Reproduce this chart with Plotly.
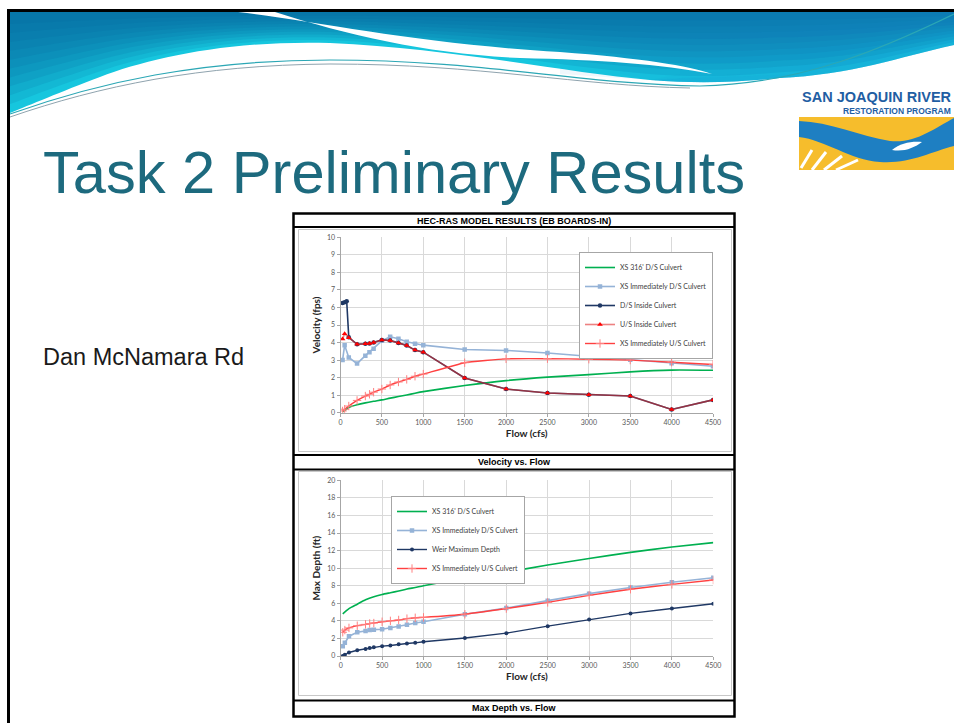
import plotly.graph_objects as go

W, H = 954, 723

def X(p):
    return p / W

def Y(p):
    return 1 - p / H

# ---------------- DATA ----------------
flow = [25, 50, 100, 200, 300, 350, 400, 500, 600, 700, 800, 900, 1000,
        1500, 2000, 2500, 3000, 3500, 4000, 4500]
flow_green = [25, 100, 200, 300, 400, 500, 600, 700, 800, 900, 1000,
              1500, 2000, 2500, 3000, 3500, 4000, 4500]
flow_ds_inside = [25, 50, 75, 100, 200, 300, 350, 400, 500, 600, 700, 800, 900, 1000,
                  1500, 2000, 2500, 3000, 3500, 4000, 4500]

# Velocity vs Flow
vel_xs316 = [0.05, 0.3, 0.45, 0.56, 0.65, 0.73, 0.83, 0.92, 1.01, 1.11, 1.2,
             1.55, 1.83, 2.03, 2.17, 2.33, 2.43, 2.42]
vel_xs_ds = [3.0, 3.85, 3.15, 2.8, 3.25, 3.45, 3.65, 4.1, 4.33, 4.22, 4.05, 3.93, 3.85,
             3.6, 3.55, 3.4, 3.22, 3.02, 2.82, 2.65]
vel_ds_inside = [6.25, 6.3, 6.35, 4.3, 3.9, 3.93, 3.95, 4.0, 4.15, 4.12, 3.98, 3.83, 3.57, 3.45,
                 1.98, 1.35, 1.12, 1.03, 0.95, 0.18, 0.73]
vel_us_inside = [4.2, 4.5, 4.28, 3.9, 3.93, 3.95, 4.0, 4.15, 4.12, 3.98, 3.83, 3.57, 3.45,
                 1.98, 1.35, 1.12, 1.03, 0.95, 0.18, 0.73]
vel_xs_us = [0.1, 0.2, 0.38, 0.7, 0.95, 1.05, 1.17, 1.35, 1.58, 1.75, 1.9, 2.08, 2.2,
             2.85, 3.07, 3.08, 3.05, 3.0, 2.88, 2.75]

# Max Depth vs Flow
dep_xs316 = [4.8, 5.4, 5.9, 6.4, 6.75, 7.0, 7.2, 7.4, 7.62, 7.8, 8.0,
             8.85, 9.55, 10.35, 11.1, 11.8, 12.4, 12.9]
dep_xs_ds = [1.1, 1.5, 2.25, 2.7, 2.85, 2.95, 3.0, 3.05, 3.2, 3.35, 3.55, 3.75, 3.9,
             4.75, 5.45, 6.3, 7.1, 7.8, 8.4, 8.9]
dep_weir = [0.0, 0.15, 0.4, 0.65, 0.8, 0.9, 1.0, 1.12, 1.2, 1.35, 1.42, 1.5, 1.62,
            2.05, 2.6, 3.4, 4.15, 4.85, 5.4, 5.95]
dep_xs_us = [2.7, 2.95, 3.2, 3.45, 3.6, 3.7, 3.75, 3.9, 4.0, 4.1, 4.25, 4.35, 4.4,
             4.75, 5.4, 6.1, 6.9, 7.6, 8.15, 8.65]

x_ticks = [0, 500, 1000, 1500, 2000, 2500, 3000, 3500, 4000, 4500]
vel_ticks = list(range(0, 11))
dep_ticks = list(range(0, 21, 2))

GREEN = "#00B050"
LBLUE = "#95B3D7"
NAVY = "#1F3864"
RED = "#FF4040"

fig = go.Figure()

# ---- top chart traces ----
fig.add_trace(go.Scatter(x=flow_green, y=vel_xs316, name="XS 316' D/S Culvert",
                         mode="lines", line=dict(color=GREEN, width=1.6, shape="spline", smoothing=0.6),
                         xaxis="x", yaxis="y", legend="legend"))
fig.add_trace(go.Scatter(x=flow, y=vel_xs_ds, name="XS Immediately D/S Culvert",
                         mode="lines+markers", line=dict(color=LBLUE, width=1.6),
                         marker=dict(symbol="square", size=4.5, color=LBLUE),
                         xaxis="x", yaxis="y", legend="legend"))
fig.add_trace(go.Scatter(x=flow_ds_inside, y=vel_ds_inside, name="D/S Inside Culvert",
                         mode="lines+markers", line=dict(color=NAVY, width=1.6),
                         marker=dict(symbol="circle", size=4.5, color=NAVY),
                         xaxis="x", yaxis="y", legend="legend"))
fig.add_trace(go.Scatter(x=flow, y=vel_us_inside, name="U/S Inside Culvert",
                         mode="lines+markers", line=dict(color="rgba(225,45,45,0.6)", width=1.6),
                         marker=dict(symbol="triangle-up", size=5, color="#FF0000"),
                         xaxis="x", yaxis="y", legend="legend"))
fig.add_trace(go.Scatter(x=flow, y=vel_xs_us, name="XS Immediately U/S Culvert",
                         mode="lines+markers", line=dict(color=RED, width=1.4, shape="spline", smoothing=0.4),
                         marker=dict(symbol="cross-thin-open", size=6, color="#FF8080",
                                     line=dict(width=1, color="#FF8080")),
                         xaxis="x", yaxis="y", legend="legend"))

# ---- bottom chart traces ----
fig.add_trace(go.Scatter(x=flow_green, y=dep_xs316, name="XS 316' D/S Culvert",
                         mode="lines", line=dict(color=GREEN, width=1.6, shape="spline", smoothing=0.6),
                         xaxis="x2", yaxis="y2", legend="legend2"))
fig.add_trace(go.Scatter(x=flow, y=dep_xs_ds, name="XS Immediately D/S Culvert",
                         mode="lines+markers", line=dict(color=LBLUE, width=1.6),
                         marker=dict(symbol="square", size=4.5, color=LBLUE),
                         xaxis="x2", yaxis="y2", legend="legend2"))
fig.add_trace(go.Scatter(x=flow, y=dep_weir, name="Weir Maximum Depth",
                         mode="lines+markers", line=dict(color=NAVY, width=1.4),
                         marker=dict(symbol="circle", size=4, color=NAVY),
                         xaxis="x2", yaxis="y2", legend="legend2"))
fig.add_trace(go.Scatter(x=flow, y=dep_xs_us, name="XS Immediately U/S Culvert",
                         mode="lines+markers", line=dict(color=RED, width=1.4, shape="spline", smoothing=0.4),
                         marker=dict(symbol="cross-thin-open", size=6, color="#FF8080",
                                     line=dict(width=1, color="#FF8080")),
                         xaxis="x2", yaxis="y2", legend="legend2"))

CHART_FONT = "Lato, 'Liberation Sans', sans-serif"
axis_common = dict(showgrid=True, gridcolor="#D9D9D9", gridwidth=1, zeroline=False,
                   showline=True, linecolor="#A6A6A6", linewidth=1,
                   ticks="outside", ticklen=3, tickcolor="#A6A6A6",
                   tickfont=dict(family=CHART_FONT, size=7, color="#595959"),
                   automargin=False, fixedrange=True)

fig.update_layout(
    width=W, height=H,
    margin=dict(l=0, r=0, t=0, b=0),
    paper_bgcolor="white", plot_bgcolor="white",
    xaxis=dict(domain=[X(340.5), X(713)], range=[0, 4500], tickvals=x_ticks, anchor="y",
               title=dict(text="<b>Flow (cfs)</b>", standoff=4,
                          font=dict(family=CHART_FONT, size=10, color="#262626")),
               **axis_common),
    yaxis=dict(domain=[Y(412.7), Y(237.3)], range=[0, 10], tickvals=vel_ticks, anchor="x",
               title=dict(text="<b>Velocity (fps)</b>", standoff=4,
                          font=dict(family=CHART_FONT, size=10, color="#262626")),
               **axis_common),
    xaxis2=dict(domain=[X(340.7), X(713.3)], range=[0, 4500], tickvals=x_ticks, anchor="y2",
                title=dict(text="<b>Flow (cfs)</b>", standoff=4,
                           font=dict(family=CHART_FONT, size=10, color="#262626")),
                **axis_common),
    yaxis2=dict(domain=[Y(656), Y(480.3)], range=[0, 20], tickvals=dep_ticks, anchor="x2",
                title=dict(text="<b>Max Depth (ft)</b>", standoff=4,
                           font=dict(family=CHART_FONT, size=10, color="#262626")),
                **axis_common),
    legend=dict(x=X(579), y=Y(252), xanchor="left", yanchor="top",
                bgcolor="white", bordercolor="#A6A6A6", borderwidth=1,
                font=dict(family=CHART_FONT, size=7, color="#404040"),
                itemwidth=30, tracegroupgap=0),
    legend2=dict(x=X(391), y=Y(496), xanchor="left", yanchor="top",
                 bgcolor="white", bordercolor="#A6A6A6", borderwidth=1,
                 font=dict(family=CHART_FONT, size=7, color="#404040"),
                 itemwidth=30, tracegroupgap=0),
    showlegend=True,
)


def path(cmds):
    out = []
    for c in cmds:
        op = c[0]
        nums = c[1:]
        pts = []
        for i in range(0, len(nums), 2):
            pts.append(f"{X(nums[i]):.5f},{Y(nums[i+1]):.5f}")
        out.append(op + " " + " ".join(pts))
    return " ".join(out)


shapes = []


def pshape(cmds, fill, line_color="rgba(0,0,0,0)", line_width=0, opacity=1.0, layer="above"):
    shapes.append(dict(type="path", xref="paper", yref="paper", path=path(cmds),
                       fillcolor=fill, line=dict(color=line_color, width=line_width),
                       opacity=opacity, layer=layer))


def lshape(x0, y0, x1, y1, color, width):
    shapes.append(dict(type="line", xref="paper", yref="paper",
                       x0=X(x0), y0=Y(y0), x1=X(x1), y1=Y(y1),
                       line=dict(color=color, width=width)))


def rshape(x0, y0, x1, y1, color, width, fill="rgba(0,0,0,0)"):
    shapes.append(dict(type="rect", xref="paper", yref="paper",
                       x0=X(x0), y0=Y(y0), x1=X(x1), y1=Y(y1),
                       line=dict(color=color, width=width), fillcolor=fill))


# ---- header swoosh (blue wave) ----
TOP = 12
lower_edge = [("L", 954, 45),
              ("C", 900, 57, 850, 75, 780, 78), ("C", 740, 82, 700, 84, 650, 80),
              ("C", 560, 72, 450, 48, 330, 43), ("C", 230, 40, 150, 58, 100, 77),
              ("C", 60, 92, 30, 105, 10, 113)]


def wave_layer(f):
    cmds = [("M", 10, TOP), ("L", 954, TOP)]
    for c in lower_edge:
        vals = list(c[1:])
        for i in range(1, len(vals), 2):
            vals[i] = TOP + f * (vals[i] - TOP)
        cmds.append((c[0],) + tuple(vals))
    cmds.append(("Z",))
    return cmds


pshape(wave_layer(1.0), "#16C6DE")
for k in range(1, 11):
    pshape(wave_layer(1.0 - k * 0.088), "#05659E", opacity=0.14)
# right-side bluish tint (soft horizontal gradient)
for xs in [560, 620, 680, 740, 800]:
    pshape([("M", xs, TOP), ("L", 954, TOP), ("L", 954, 45), ("C", 900, 57, 850, 75, 780, 78),
            ("C", 740, 82, 700, 84, 650, 80), ("L", xs, 74), ("Z",)], "#1E8AD8", opacity=0.07)
# white streak
pshape([("M", 238, 12), ("C", 320, 22, 420, 44, 560, 52), ("C", 640, 58, 690, 66, 712, 74),
        ("C", 660, 64, 600, 60, 520, 58), ("C", 430, 54, 350, 36, 275, 12), ("Z",)], "white")
# thin decorative lines
pshape([("M", 10, 114), ("C", 100, 82, 200, 60, 330, 60), ("C", 480, 60, 580, 84, 700, 86),
        ("C", 800, 84, 880, 50, 954, 14)], "rgba(0,0,0,0)", "#2BA7B5", 1.2)
pshape([("M", 10, 117), ("C", 100, 86, 200, 65, 330, 64), ("C", 480, 64, 580, 86, 690, 88)],
       "rgba(0,0,0,0)", "#8FA3AE", 1.0)

# slide border
lshape(8.5, 9, 8.5, 723, "black", 3)
lshape(7, 10.5, 954, 10.5, "black", 3)

# ---- logo ----
rshape(799, 117, 954, 170, "rgba(0,0,0,0)", 0, fill="#F6BD2C")
pshape([("M", 799, 121), ("C", 830, 122, 860, 136, 890, 141), ("C", 915, 144, 935, 128, 954, 118),
        ("L", 954, 146), ("C", 930, 152, 910, 164, 880, 162), ("C", 850, 160, 825, 140, 799, 137), ("Z",)],
       "#1E7FC2")
pshape([("M", 892, 150), ("C", 900, 143, 912, 141, 922, 142), ("C", 914, 148, 904, 152, 892, 150), ("Z",)],
       "white")
for (a, b, c, d) in [(801, 168, 812, 150), (812, 170, 826, 152), (824, 170, 842, 156), (836, 170, 858, 160)]:
    lshape(a, b, c, d, "white", 3)

# ---- chart frame ----
rshape(293.5, 213.5, 734.5, 716.5, "black", 2.5)
lshape(293.5, 227, 734.5, 227, "black", 2)
rshape(298.5, 229.5, 731.5, 451.5, "#C8C8C8", 1)
lshape(293.5, 455, 734.5, 455, "black", 2)
lshape(293.5, 469.5, 734.5, 469.5, "black", 2)
rshape(298.5, 471.5, 731.5, 695.5, "#C8C8C8", 1)
lshape(293.5, 700.5, 734.5, 700.5, "black", 2)

fig.update_layout(shapes=shapes)

annotations = [
    dict(text="Task 2 Preliminary Results", x=X(41), y=Y(172), xanchor="left", yanchor="middle",
         font=dict(family="'Liberation Sans', Arial, sans-serif", size=59.6, color="#1D6A7E")),
    dict(text="Dan McNamara Rd", x=X(41), y=Y(357), xanchor="left", yanchor="middle",
         font=dict(family="'Liberation Sans', Arial, sans-serif", size=23.5, color="#1A1A1A")),
    dict(text="<b>SAN JOAQUIN RIVER</b>", x=X(877), y=Y(97), xanchor="center", yanchor="middle",
         font=dict(family="'Liberation Sans', Arial, sans-serif", size=14.5, color="#1F5EA3")),
    dict(text="<b>RESTORATION PROGRAM</b>", x=X(953), y=Y(111), xanchor="right", yanchor="middle",
         font=dict(family="'Liberation Sans', Arial, sans-serif", size=8.5, color="#1F5EA3")),
    dict(text="<b>HEC-RAS MODEL RESULTS (EB BOARDS-IN)</b>", x=X(514), y=Y(220.5),
         xanchor="center", yanchor="middle",
         font=dict(family="'Liberation Sans', Arial, sans-serif", size=9, color="black")),
    dict(text="<b>Velocity vs. Flow</b>", x=X(514), y=Y(462), xanchor="center", yanchor="middle",
         font=dict(family="'Liberation Sans', Arial, sans-serif", size=9, color="black")),
    dict(text="<b>Max Depth vs. Flow</b>", x=X(514), y=Y(707.5), xanchor="center", yanchor="middle",
         font=dict(family="'Liberation Sans', Arial, sans-serif", size=9, color="black")),
]
for a in annotations:
    a.update(xref="paper", yref="paper", showarrow=False)
fig.update_layout(annotations=annotations)

fig.write_html("out.html", config={"displayModeBar": False},
               post_script="document.body.style.margin='0';document.body.style.overflow='hidden';")
